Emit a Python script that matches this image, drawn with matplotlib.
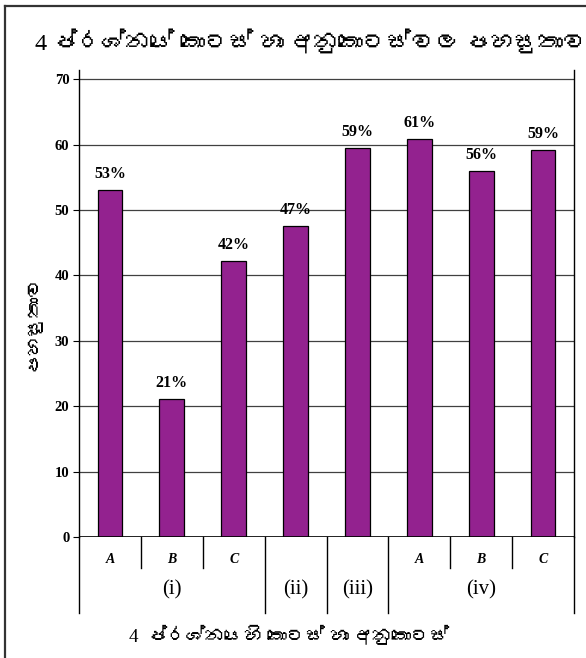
import matplotlib
matplotlib.use("Agg")
import matplotlib.pyplot as plt
from matplotlib import font_manager
from matplotlib.ft2font import FT2Font
from matplotlib.lines import Line2D
import matplotlib.transforms as mtransforms

# ---- data ----
parts = ["A", "B", "C", "", "", "A", "B", "C"]
groups = ["(i)", "(ii)", "(iii)", "(iv)"]
group_sizes = [3, 1, 1, 3]
values = [53.0, 21.1, 42.2, 47.5, 59.5, 60.8, 56.0, 59.2]
value_labels = ["53%", "21%", "42%", "47%", "59%", "61%", "56%", "59%"]
yticks = [0, 10, 20, 30, 40, 50, 60, 70]

title = "4 ප්රශ්නයේ කොටස් හා අනුකොටස්වල පහසුතාව"
xlabel = "4  ප්රශ්නයෙහි කොටස් හා අනුකොටස්"
ylabel = "පහසුතාව"


# look for any installed font that can draw Sinhala
def find_sinhala_font():
    for f in font_manager.fontManager.ttflist:
        try:
            if 0x0DB4 in FT2Font(f.fname).get_charmap():
                return f.name
        except Exception:
            pass
    return None


sin_font = find_sinhala_font()
serif = ["Liberation Serif", "DejaVu Serif"]
# serif first so digits look like the reference, Sinhala falls back to sin_font
sin_family = serif[:1] + ([sin_font] if sin_font else []) + ["DejaVu Sans"]

plt.rcParams["font.family"] = serif

fig = plt.figure(figsize=(5.86, 6.58), dpi=100)
ax = fig.add_axes([79 / 586, 1 - 537 / 658, 495 / 586, 467 / 658])

x = list(range(len(values)))
ax.bar(x, values, width=0.4, color="#93228F", edgecolor="black", linewidth=0.9, zorder=3)
for xi, v, lab in zip(x, values, value_labels):
    ax.text(xi, v + 1.2, lab, ha="center", va="bottom", fontsize=11.5,
            fontweight="bold", zorder=4)

ax.set_xlim(-0.5, len(values) - 0.5)
ax.set_ylim(0, 71.4)
ax.set_yticks(yticks)
ax.set_yticklabels([str(t) for t in yticks], fontsize=10.5, fontweight="bold")
ax.set_xticks([])
ax.yaxis.grid(True, color="#404040", linewidth=0.9, zorder=0)
ax.tick_params(axis="y", length=4, width=0.8, pad=3)
ax.spines["top"].set_visible(False)
ax.spines["bottom"].set_visible(False)
ax.spines["left"].set_linewidth(1.0)
ax.spines["right"].set_linewidth(1.0)

# category table below the axis
trans = mtransforms.blended_transform_factory(ax.transData, ax.transAxes)
ax.axhline(0, color="black", linewidth=1.2, zorder=5)
group_edges = [-0.5]
for n in group_sizes:
    group_edges.append(group_edges[-1] + n)
for b in [i - 0.5 for i in range(len(values) + 1)]:
    depth = -0.163 if b in group_edges else -0.066
    ax.add_line(Line2D([b, b], [0, depth], transform=trans, color="black",
                       linewidth=1.0, clip_on=False))
for xi, p in zip(x, parts):
    ax.text(xi, -0.049, p, transform=trans, ha="center", va="center",
            fontsize=10, fontweight="bold", fontstyle="italic")
for i, g in enumerate(groups):
    mid = (group_edges[i] + group_edges[i + 1]) / 2
    ax.text(mid, -0.113, g, transform=trans, ha="center", va="center", fontsize=15)

# texts
fig.text(311 / 586, 1 - 42 / 658, title, ha="center", va="center", fontsize=17.5,
         family=sin_family)
fig.text(289 / 586, 1 - 636 / 658, xlabel, ha="center", va="center", fontsize=13.8,
         family=sin_family)
fig.text(33 / 586, 1 - 322 / 658, ylabel, ha="center", va="center", fontsize=14,
         rotation=90, family=sin_family)

# outer frame (only top and left edges are inside the picture)
fig.add_artist(Line2D([5 / 586, 1], [1 - 6 / 658, 1 - 6 / 658], transform=fig.transFigure,
                      color="#333333", linewidth=1.6))
fig.add_artist(Line2D([5 / 586, 5 / 586], [0, 1 - 6 / 658], transform=fig.transFigure,
                      color="#333333", linewidth=1.6))

fig.savefig("out.png", dpi=100)
